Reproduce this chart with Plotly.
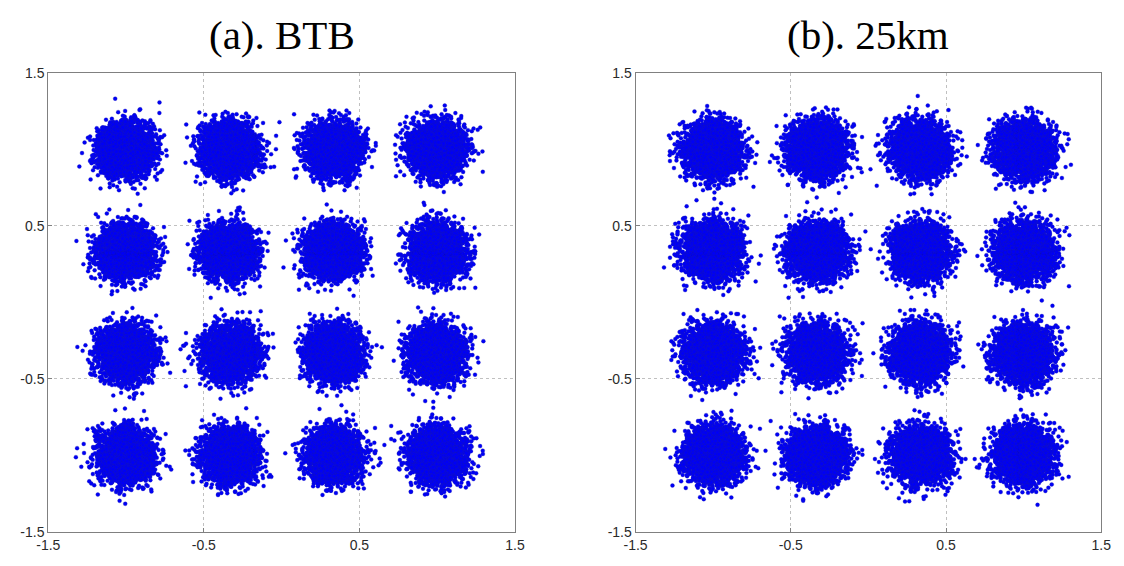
import numpy as np
import plotly.graph_objects as go

# 16-QAM constellation: in-phase / quadrature levels (normalised)
i_levels = [-1.0, -1 / 3, 1 / 3, 1.0]
q_levels = [1.0, 1 / 3, -1 / 3, -1.0]

# Received-symbol noise spread (std dev per component) and symbols per point
panel_titles = ["(a). BTB", "(b). 25km"]
noise_sigma = [0.082, 0.085]
symbols_per_point = 3500

axis_ticks = [-1.5, -0.5, 0.5, 1.5]
axis_ticktext = ["-1.5", "-0.5", "0.5", "1.5"]
axis_range = [-1.5, 1.5]

W, H = 1124, 566
panels_px = [(37, 513), (636, 1111)]
top_px, bottom_px = 67, 539

rng = np.random.default_rng(7)

fig = go.Figure()

for k, (title, sigma) in enumerate(zip(panel_titles, noise_sigma)):
    xs, ys = [], []
    for q in q_levels:
        for i in i_levels:
            xs.append(i + sigma * rng.standard_normal(symbols_per_point))
            ys.append(q + sigma * rng.standard_normal(symbols_per_point))
    xs = np.concatenate(xs)
    ys = np.concatenate(ys)
    ax = "" if k == 0 else str(k + 1)
    fig.add_trace(go.Scatter(
        x=xs, y=ys, mode="markers",
        xaxis="x" + ax, yaxis="y" + ax,
        marker=dict(size=4, color="#0000f5",
                    line=dict(width=0.3, color="#1c1cb0")),
        showlegend=False, hoverinfo="skip",
    ))

    x0, x1 = panels_px[k]
    axis_common = dict(
        range=axis_range, tickvals=axis_ticks, ticktext=axis_ticktext,
        showgrid=True, gridcolor="#c0c0c0", griddash="dot", gridwidth=1,
        zeroline=False, showline=True, linecolor="#808080", linewidth=1,
        mirror=True, ticks="inside", ticklen=4, tickcolor="#808080",
        tickfont=dict(family="Liberation Sans, Arial, sans-serif",
                      size=14, color="#2a2a2a"),
        fixedrange=True,
    )
    fig.update_layout(**{
        "xaxis" + ax: dict(axis_common, domain=[x0 / W, x1 / W],
                           anchor="y" + ax),
        "yaxis" + ax: dict(axis_common,
                           domain=[(H - bottom_px) / H, (H - top_px) / H],
                           anchor="x" + ax),
    })
    fig.add_annotation(
        text=title, xref="paper", yref="paper",
        x=(x0 + x1) / 2 / W, y=(H - 28) / H,
        xanchor="center", yanchor="middle", showarrow=False,
        font=dict(family="Liberation Serif, Times New Roman, serif",
                  size=41, color="#000000"),
    )

fig.update_layout(
    width=W, height=H,
    margin=dict(l=0, r=0, t=0, b=0),
    paper_bgcolor="white", plot_bgcolor="white",
)

fig.write_html("out.html")
